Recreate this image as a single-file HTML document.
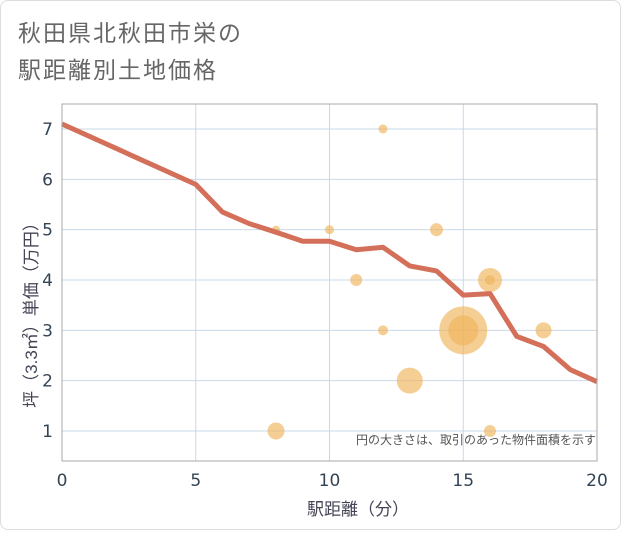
<!DOCTYPE html>
<html><head><meta charset="utf-8"><style>
body{margin:0;background:#fff;font-family:"Liberation Sans","Noto Sans CJK JP",sans-serif}
#card{position:absolute;left:0;top:0;width:619px;height:528px;border:1px solid #ddd;border-radius:8px;background:#fff}
</style></head><body>
<div id="card">
<svg width="621" height="530">
<text x="17" y="40" font-size="23" letter-spacing="2" fill="#666" font-family="Liberation Sans,Noto Sans CJK JP,sans-serif">秋田県北秋田市栄の</text>
<text x="17" y="77" font-size="23" letter-spacing="2" fill="#666" font-family="Liberation Sans,Noto Sans CJK JP,sans-serif">駅距離別土地価格</text>
<g id="grid"></g><g id="bubbles"></g><g id="line"></g><g id="axes"></g>
<text x="595" y="443" font-size="12" fill="#555" text-anchor="end" font-family="Liberation Sans,Noto Sans CJK JP,sans-serif">円の大きさは、取引のあった物件面積を示す</text>
<text x="357" y="514" font-size="17" fill="#445" text-anchor="middle" font-family="Liberation Sans,Noto Sans CJK JP,sans-serif">駅距離（分）</text>
<text transform="translate(36,310) rotate(-90)" font-size="17" fill="#445" text-anchor="middle" font-family="Liberation Sans,Noto Sans CJK JP,sans-serif">坪（3.3㎡）単価（万円）</text>
</svg></div>
<script>
const xTicks=[0,5,10,15,20];
const yTicks=[1,2,3,4,5,6,7];
const lineX=[0,5,6,7,8,9,10,11,12,13,14,15,16,17,18,19,20];
const lineY=[7.1,5.9,5.35,5.12,4.95,4.77,4.77,4.6,4.65,4.28,4.18,3.7,3.73,2.88,2.68,2.22,1.98];
const bubX=[8,10,12,14,11,12,16,16,15,15,13,8,16,18];
const bubY=[5,5,7,5,4,3,4,4,3,3,2,1,1,3];
const bubR=[4,4.5,4.5,6.5,6,5,12,5,24,15,13,8.5,6,8];
const L=61,R=596,T=103,B=460;
const sx=v=>L+(R-L)*v/20;
const sy=v=>430-(v-1)*(430-128)/6;
const NS="http://www.w3.org/2000/svg";
function mk(t,a,p){const e=document.createElementNS(NS,t);for(const k in a)e.setAttribute(k,a[k]);p.appendChild(e);return e;}
const g=document.getElementById('grid'),ax=document.getElementById('axes');
xTicks.forEach(v=>{
const l=mk('line',{x1:sx(v),x2:sx(v),y1:T,y2:B,stroke:'#c9d8e8','stroke-width':1},g);


const t=mk('text',{x:sx(v),y:B+25,'font-size':17,fill:'#345','text-anchor':'middle','font-family':'DejaVu Sans,sans-serif'},ax);
t.textContent=v;


});
yTicks.forEach(v=>{
const l=mk('line',{x1:L,x2:R,y1:sy(v),y2:sy(v),stroke:'#c9d8e8','stroke-width':1},g);


const t=mk('text',{x:L-9,y:sy(v)+6,'font-size':17,fill:'#345','text-anchor':'end','font-family':'DejaVu Sans,sans-serif'},ax);
t.textContent=v;


});
const fr=mk('rect',{x:L,y:T,width:R-L,height:B-T,fill:'none',stroke:'#aaa','stroke-width':1},ax);


const bg=document.getElementById('bubbles');
bubX.forEach((x,i)=>{
const c=mk('circle',{cx:sx(x),cy:sy(bubY[i]),r:bubR[i],fill:'#f0b45a','fill-opacity':0.65},bg);


});
const pts=lineX.map((x,i)=>sx(x)+','+sy(lineY[i])).join(' ');
const pl=mk('polyline',{points:pts,fill:'none',stroke:'#d4705a','stroke-width':5,'stroke-linejoin':'round'},document.getElementById('line'));


</script>
</body></html>
